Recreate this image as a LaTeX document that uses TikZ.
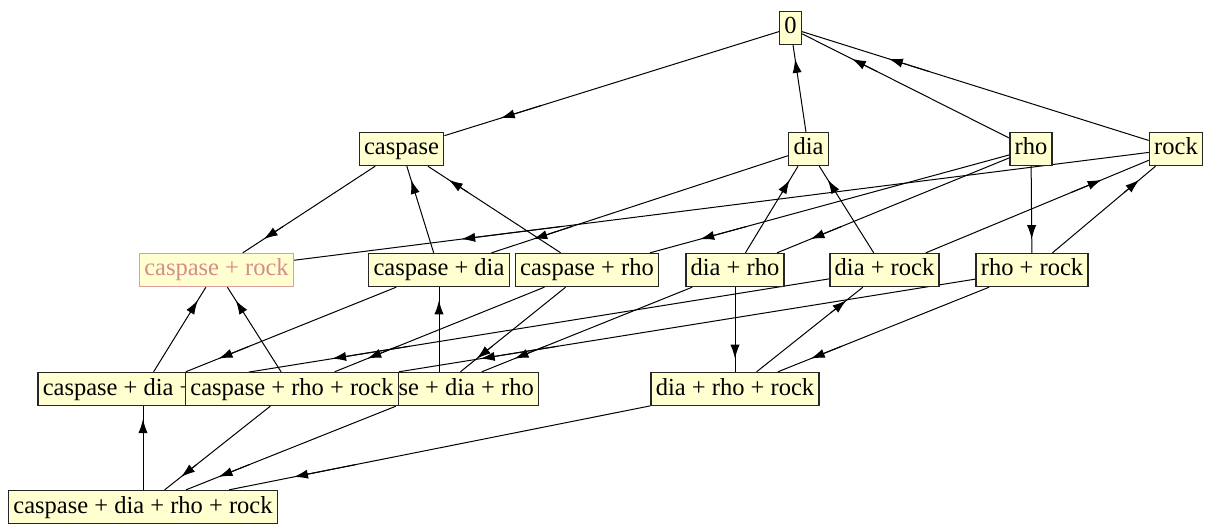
\documentclass[tikz,border=0pt]{standalone}
\usepackage{fontspec}
\setmainfont{Liberation Serif}
\usetikzlibrary{calc,arrows.meta,backgrounds}
\definecolor{nodefill}{RGB}{255,255,208}
\definecolor{pinkline}{RGB}{222,158,158}
\definecolor{pinktext}{RGB}{215,140,140}
\newcommand\myedge[2]{%
  \draw[edgeline] (#1) -- (#2);
  \draw[tipline] ($(#1)!0.64!(#2)$) -- ($(#1)!0.745!(#2)$);}
\begin{document}
\begin{tikzpicture}[x=0.5pt,y=-0.5pt,
  state/.style={draw=black!85, line width=0.7pt, fill=nodefill, inner xsep=2.4pt, inner ysep=0pt,
    minimum height=16.5pt, text height=8.6pt, text depth=2.6pt,
    font=\fontsize{12.25pt}{14pt}\selectfont},
  pinkstate/.style={state, draw=pinkline, text=pinktext},
  edgeline/.style={draw=black, line width=0.5pt},
  tipline/.style={edgeline, -{Latex[length=7pt,width=4.6pt]}}]
\useasboundingbox (0,0) rectangle (1206,524);
\node[state] (n0) at (790.5,28) {0};
\node[state] (c) at (401.5,149) {caspase};
\node[state] (d) at (808.5,149) {dia};
\node[state] (h) at (1031,149) {rho};
\node[state] (k) at (1176,149) {rock};
\node[pinkstate] (ck) at (216.5,270) {caspase + rock};
\node[state] (cd) at (439,270) {caspase + dia};
\node[state] (ch) at (587,270) {caspase + rho};
\node[state] (dh) at (735,270) {dia + rho};
\node[state] (dk) at (884.5,270) {dia + rock};
\node[state] (hk) at (1032,270) {rho + rock};
\node[state] (cdk) at (143,389) {caspase + dia + rock};
\node[state] (cdh) at (439,389) {caspase + dia + rho};
\node[state] (chk) at (292,389) {caspase + rho + rock};
\node[state] (dhk) at (735,389) {dia + rho + rock};
\node[state] (cdhk) at (143,507) {caspase + dia + rho + rock};
\begin{pgfonlayer}{background}
\myedge{n0}{c} \myedge{d}{n0} \myedge{h}{n0} \myedge{k}{n0}
\myedge{c}{ck} \myedge{cd}{c} \myedge{ch}{c}
\myedge{d}{cd} \myedge{dh}{d} \myedge{dk}{d}
\myedge{h}{ch} \myedge{h}{dh} \myedge{h}{hk}
\myedge{k}{ck} \myedge{dk}{k} \myedge{hk}{k}
\myedge{cdk}{ck} \myedge{chk}{ck}
\myedge{cd}{cdk} \myedge{cdh}{cd}
\myedge{ch}{chk} \myedge{ch}{cdh}
\myedge{dh}{cdh} \myedge{dh}{dhk}
\myedge{dk}{cdk} \myedge{dhk}{dk}
\myedge{hk}{chk} \myedge{hk}{dhk}
\myedge{cdhk}{cdk} \myedge{chk}{cdhk} \myedge{cdh}{cdhk} \myedge{dhk}{cdhk}
\end{pgfonlayer}
\end{tikzpicture}
\end{document}
